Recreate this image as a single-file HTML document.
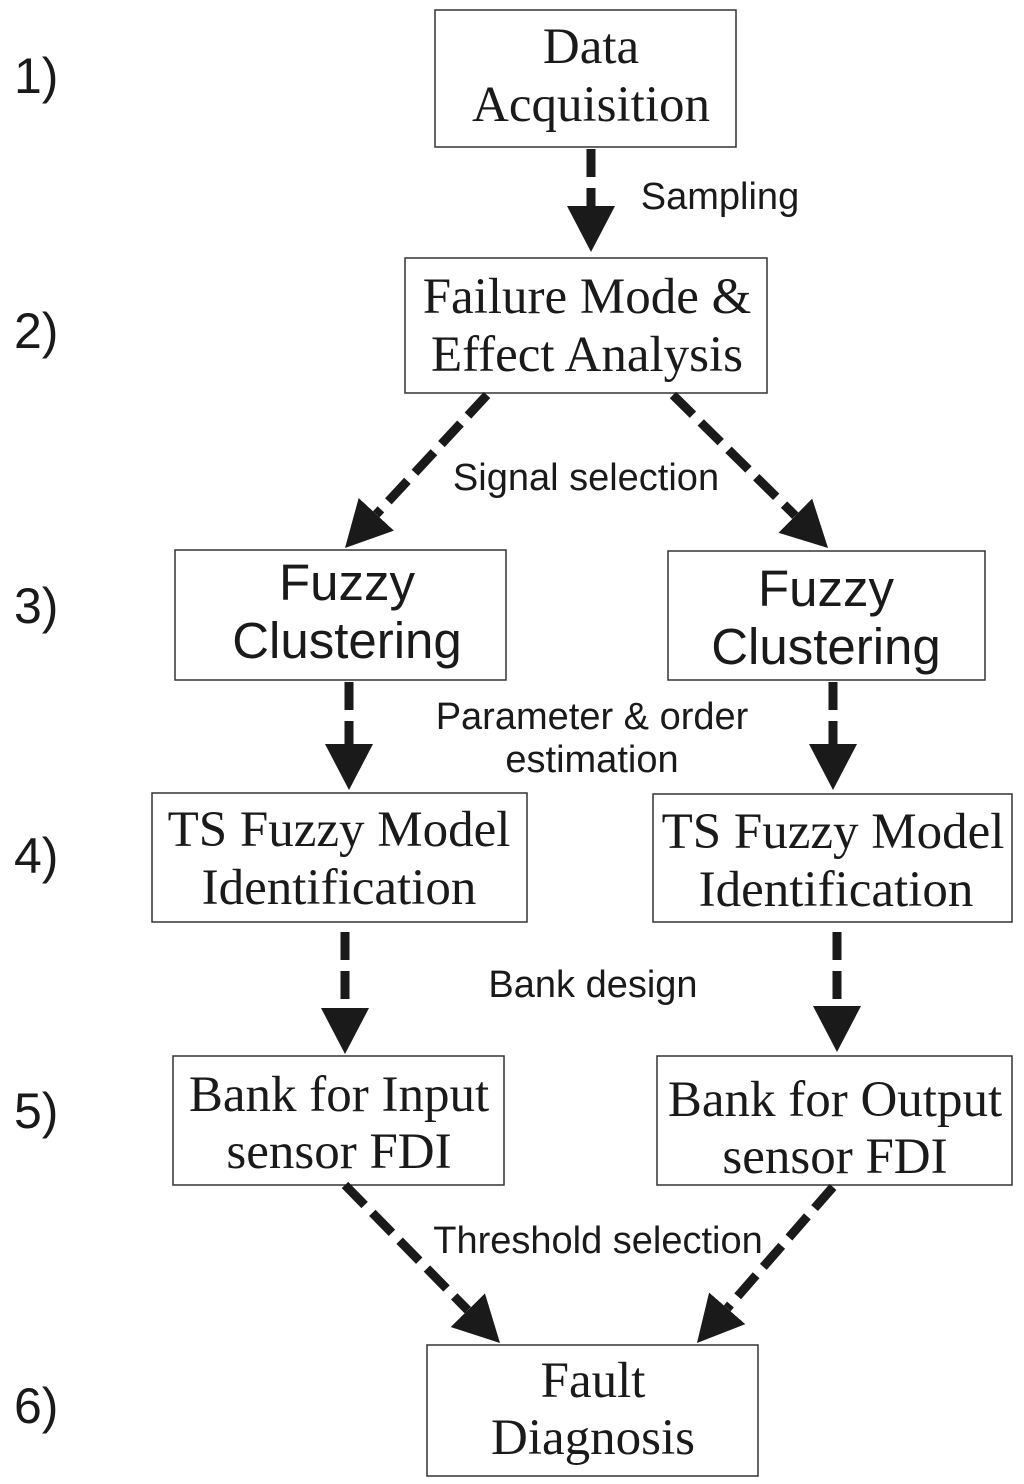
<!DOCTYPE html>
<html><head><style>body{margin:0;background:#fff}svg{display:block}</style></head><body>
<svg width="1024" height="1484" viewBox="0 0 1024 1484" xmlns="http://www.w3.org/2000/svg">
<defs><marker id="a" markerUnits="userSpaceOnUse" markerWidth="50" markerHeight="50" refX="0" refY="24" orient="auto"><path d="M0,0 L46,24 L0,48 Z" fill="#1a1a1a"/></marker></defs>
<g fill="none" stroke="#333" stroke-width="1.5">
<rect x="435" y="10" width="301" height="137"/>
<rect x="405" y="258" width="362" height="135"/>
<rect x="175" y="550" width="331" height="130"/>
<rect x="668" y="551" width="317" height="129"/>
<rect x="152" y="793" width="375" height="129"/>
<rect x="653" y="794" width="359" height="128"/>
<rect x="173" y="1056" width="331" height="129"/>
<rect x="657" y="1056" width="355" height="129"/>
<rect x="427" y="1345" width="331" height="131"/>
</g>
<g stroke="#1a1a1a" stroke-width="9" stroke-dasharray="28,11" fill="none" marker-end="url(#a)">
<line x1="591" y1="149" x2="591" y2="206"/>
<line x1="487" y1="395" x2="376.3" y2="514.3"/>
<line x1="673" y1="395" x2="795.3" y2="515.7"/>
<line x1="349" y1="682" x2="349" y2="744"/>
<line x1="833" y1="682" x2="833" y2="744"/>
<line x1="345" y1="932" x2="345" y2="1008"/>
<line x1="837" y1="932" x2="837" y2="1006"/>
<line x1="345" y1="1185" x2="467.8" y2="1310.2"/>
<line x1="833" y1="1187" x2="727.2" y2="1308.3"/>
</g>
<g font-family="Liberation Serif, serif" font-size="51" fill="#1a1a1a" text-anchor="middle">
<text x="591" y="63">Data</text><text x="591" y="121">Acquisition</text>
<text x="587" y="313">Failure Mode &amp;</text><text x="587" y="371">Effect Analysis</text>
<text x="339" y="846">TS Fuzzy Model</text><text x="339" y="904">Identification</text>
<text x="833" y="848">TS Fuzzy Model</text><text x="836" y="906">Identification</text>
<text x="339" y="1111">Bank for Input</text><text x="339" y="1168">sensor FDI</text>
<text x="835" y="1116">Bank for Output</text><text x="835" y="1173">sensor FDI</text>
<text x="593" y="1397">Fault</text><text x="593" y="1454">Diagnosis</text>
</g>
<g font-family="Liberation Sans, sans-serif" font-size="51" fill="#1a1a1a" text-anchor="middle">
<text x="347" y="600">Fuzzy</text><text x="347" y="658">Clustering</text>
<text x="826" y="606">Fuzzy</text><text x="826" y="664">Clustering</text>
</g>
<g font-family="Liberation Sans, sans-serif" font-size="38" fill="#1a1a1a" text-anchor="middle">
<text x="720" y="209">Sampling</text>
<text x="586" y="490">Signal selection</text>
<text x="592" y="729">Parameter &amp; order</text>
<text x="592" y="772">estimation</text>
<text x="593" y="997">Bank design</text>
<text x="598" y="1253">Threshold selection</text>
</g>
<g font-family="Liberation Sans, sans-serif" font-size="50" fill="#1a1a1a">
<text x="14" y="93">1)</text><text x="14" y="348">2)</text><text x="14" y="623">3)</text>
<text x="14" y="873">4)</text><text x="14" y="1128">5)</text><text x="14" y="1423">6)</text>
</g>
</svg>
</body></html>
